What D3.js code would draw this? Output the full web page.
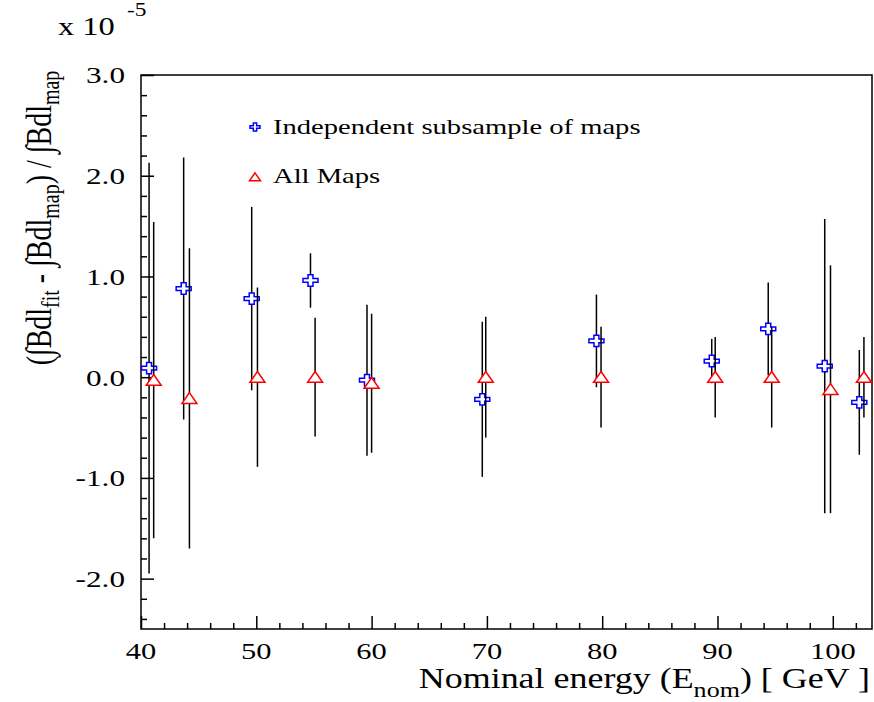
<!DOCTYPE html>
<html lang="en">
<head>
    <meta charset="utf-8">
    <title>Bdl fit residuals</title>
    <script type="text/javascript" src="https://d3js.org/d3.v7.min.js"></script>
    <style>
        body { margin: 0; background: #fff; }
        text { font-family: "Liberation Serif", "DejaVu Serif", serif; fill: #000; }
    </style>
</head>
<body>
<script type="text/javascript">
        var w = 874;
        var h = 702;

        // independent subsample of maps (blue crosses)
        var energySub = [40.7, 43.7, 49.6, 54.7, 59.6, 69.6, 79.5, 89.5, 94.4, 99.3, 102.3];
        var valueSub  = [0.09, 0.88, 0.78, 0.96, -0.03, -0.22, 0.36, 0.16, 0.48, 0.11, -0.25];
        var errorSub  = [2.04, 1.30, 0.91, 0.27, 0.75, 0.77, 0.46, 0.22, 0.46, 1.46, 0.52];

        // all maps (red triangles)
        var energyAll = [41.1, 44.2, 50.1, 55.1, 60.0, 69.9, 79.9, 89.8, 94.7, 99.8, 102.7];
        var valueAll  = [-0.03, -0.21, 0.0, 0.0, -0.06, 0.0, 0.0, 0.0, 0.0, -0.12, 0.0];
        var errorAll  = [1.57, 1.49, 0.89, 0.59, 0.69, 0.60, 0.50, 0.40, 0.50, 1.23, 0.40];

        var xMajor = [40, 50, 60, 70, 80, 90, 100];
        var yMajor = [-2, -1, 0, 1, 2, 3];
        var seriesNames = ["Independent subsample of maps", "All Maps"];

        var stretch = 1.3; // text and markers look wider than tall in the original

        var padL = 141, padR = 872, padT = 75, padB = 629;

        var x = d3.scaleLinear().domain([40, 103.4]).range([padL, padR]);
        var y = d3.scaleLinear().domain([-2.5, 3.0]).range([padB, padT]);

        var xMinor = d3.range(40, 103, 2).filter(function(d) { return d % 10 != 0; });
        var yMinor = d3.range(-24, 31, 2).map(function(d) { return d / 10; })
            .filter(function(d) { return Math.abs(d - Math.round(d)) > 0.01; });

        var svg = d3.select("body")
        .append("svg")
        .attr("width", w)
        .attr("height", h);

        function stext(px, py, size, anchor, sx) {
            return svg.append("text")
                .attr("transform", "translate(" + px + "," + py + ") scale(" + (sx || stretch) + ",1)")
                .attr("font-size", size)
                .attr("text-anchor", anchor);
        }

        // ticks point inwards, ROOT style
        var axisY = d3.axisLeft(y).tickValues(yMajor).tickSizeInner(-13).tickSizeOuter(0)
            .tickFormat(function(d) { return ""; });
        var axisYMinor = d3.axisLeft(y).tickValues(yMinor).tickSizeInner(-6).tickSizeOuter(0)
            .tickFormat(function(d) { return ""; });
        var axisX = d3.axisBottom(x).tickValues(xMajor).tickSizeInner(-13).tickSizeOuter(0)
            .tickFormat(function(d) { return ""; });
        var axisXMinor = d3.axisBottom(x).tickValues(xMinor).tickSizeInner(-6).tickSizeOuter(0)
            .tickFormat(function(d) { return ""; });

        [axisY, axisYMinor].forEach(function(a) {
            svg.append("g").attr("transform", "translate(" + padL + ",0)").call(a)
                .call(function(g) { g.select(".domain").remove(); })
                .selectAll("line").attr("stroke", "#000").attr("stroke-width", 1.5);
        });
        [axisX, axisXMinor].forEach(function(a) {
            svg.append("g").attr("transform", "translate(0," + padB + ")").call(a)
                .call(function(g) { g.select(".domain").remove(); })
                .selectAll("line").attr("stroke", "#000").attr("stroke-width", 1.5);
        });

        svg.append("rect")
            .attr("x", padL).attr("y", padT)
            .attr("width", padR - padL).attr("height", padB - padT)
            .attr("fill", "none").attr("stroke", "#000").attr("stroke-width", 1.5);

        yMajor.forEach(function(d) {
            stext(125, y(d), 24, "end").attr("dy", "0.35em").text(d.toFixed(1));
        });
        xMajor.forEach(function(d) {
            stext(x(d), 659, 24, "middle", 1.27).text(d);
        });

        // exponent label
        stext(58, 35, 25, "start").text("x 10");
        stext(127, 16, 18, "start").text("-5");

        // x title
        var xt = stext(870, 688, 29, "end", 1.24);
        xt.append("tspan").text("Nominal energy (E");
        xt.append("tspan").attr("font-size", 21).attr("dy", 9).text("nom");
        xt.append("tspan").attr("dy", -9).text(") [ GeV ]");

        // y title
        var yt = svg.append("text")
            .attr("transform", "translate(51,218) scale(" + stretch + ",1) rotate(-90)")
            .attr("font-size", 28)
            .attr("text-anchor", "middle");
        yt.append("tspan").text("(\u222BBdl");
        yt.append("tspan").attr("font-size", 20).attr("dy", 6).text("fit");
        yt.append("tspan").attr("dy", -6).text(" - \u222BBdl");
        yt.append("tspan").attr("font-size", 20).attr("dy", 6).text("map");
        yt.append("tspan").attr("dy", -6).text(") / \u222BBdl");
        yt.append("tspan").attr("font-size", 20).attr("dy", 6).text("map");

        var crossPath = "M-0.33,-1L0.33,-1L0.33,-0.33L1,-0.33L1,0.33L0.33,0.33L0.33,1L-0.33,1L-0.33,0.33L-1,0.33L-1,-0.33L-0.33,-0.33Z";
        var triPath = "M0,-1.05L1,0.95L-1,0.95Z";

        function drawSeries(ex, vals, errs, path, color, sx, sy) {
            var pts = ex.map(function(e, i) { return { e: e, v: vals[i], err: errs[i] }; });
            svg.append("g").selectAll("line")
                .data(pts)
                .enter()
                .append("line")
                .attr("x1", function(d) { return x(d.e); })
                .attr("x2", function(d) { return x(d.e); })
                .attr("y1", function(d) { return y(d.v + d.err); })
                .attr("y2", function(d) { return y(d.v - d.err); })
                .attr("stroke", "#000")
                .attr("stroke-width", 1.5);
            svg.append("g").selectAll("path")
                .data(pts)
                .enter()
                .append("path")
                .attr("d", path)
                .attr("transform", function(d) {
                    return "translate(" + x(d.e) + "," + y(d.v) + ") scale(" + sx + "," + sy + ")";
                })
                .attr("fill", "#fff")
                .attr("stroke", color)
                .attr("stroke-width", 1.5)
                .attr("vector-effect", "non-scaling-stroke");
        }

        drawSeries(energySub, valueSub, errorSub, crossPath, "#0000ff", 7.5, 5.7);
        drawSeries(energyAll, valueAll, errorAll, triPath, "#ff0000", 7.5, 5.4);

        // legend
        svg.append("path").attr("d", crossPath)
            .attr("transform", "translate(255,127) scale(5,4)")
            .attr("fill", "#fff").attr("stroke", "#0000ff").attr("stroke-width", 1.5)
            .attr("vector-effect", "non-scaling-stroke");
        stext(273, 134, 22, "start").text(seriesNames[0]);
        svg.append("path").attr("d", triPath)
            .attr("transform", "translate(255,177) scale(5.5,4)")
            .attr("fill", "#fff").attr("stroke", "#ff0000").attr("stroke-width", 1.5)
            .attr("vector-effect", "non-scaling-stroke");
        stext(273, 183, 22, "start").text(seriesNames[1]);
</script>
</body>
</html>
